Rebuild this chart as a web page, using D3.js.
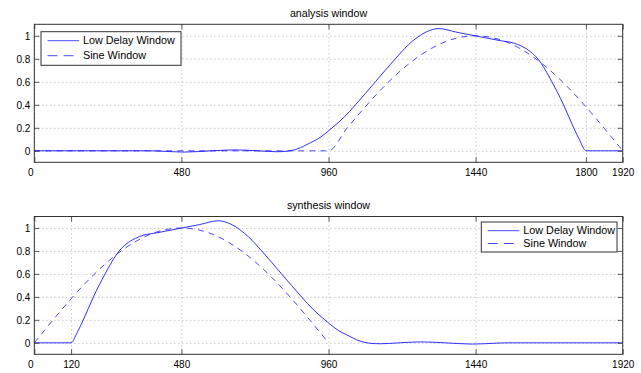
<!DOCTYPE html>
<html><head><meta charset="utf-8">
<script src="https://cdn.jsdelivr.net/npm/d3@7"></script>
<style>
body{margin:0;background:#fff;}
svg{display:block;font-family:"Liberation Sans",Arial,Helvetica,sans-serif;}
</style></head>
<body><svg id="c" width="641" height="373"></svg>
<script>
// ---- data ----
const titles = ["analysis window", "synthesis window"];
const seriesNames = ["Low Delay Window", "Sine Window"];
const xTicksTop = [0, 480, 960, 1440, 1800, 1920];
const xTicksBottom = [0, 120, 480, 960, 1440, 1920];
const yTicks = [0, 0.2, 0.4, 0.6, 0.8, 1];
const yTickLabels = ["0", "0.2", "0.4", "0.6", "0.8", "1"];

// analysis low delay window [n, value]
const analysisLD = [
  [0,0],[375,0],[420,-0.004],[490,-0.011],[580,0.0],[660,0.008],[740,-0.002],[790,-0.008],
  [825,-0.004],[857,0.015],[901,0.07],[923,0.1],[972,0.2],[1010,0.29],[1048,0.4],[1113,0.6],
  [1178,0.8],[1220,0.92],[1249,0.985],[1280,1.035],[1300,1.055],[1320,1.063],[1380,1.03],
  [1440,0.999],[1520,0.958],[1564,0.937],[1590,0.91],[1620,0.86],[1643,0.8],[1689,0.6],
  [1727,0.4],[1760,0.2],[1780,0.09],[1800,0],[1920,0]
];
// analysis sine window
const analysisSine = [
  [0,0],[960,0],[1020,0.195],[1080,0.383],[1140,0.556],[1200,0.707],[1260,0.831],[1320,0.924],
  [1380,0.981],[1440,1.0],[1500,0.981],[1560,0.924],[1620,0.831],[1680,0.707],[1740,0.556],
  [1800,0.383],[1860,0.195],[1920,0]
];
// synthesis low delay window
const synthesisLD = [
  [0,0],[120,0],[140,0.09],[160,0.2],[193,0.4],[231,0.6],[277,0.8],[300,0.86],[330,0.91],
  [356,0.937],[400,0.958],[480,0.999],[540,1.03],[600,1.063],[620,1.055],[640,1.035],[671,0.985],
  [700,0.92],[742,0.8],[807,0.6],[872,0.4],[910,0.29],[948,0.2],[997,0.1],[1019,0.07],
  [1063,0.015],[1095,-0.004],[1130,-0.008],[1180,-0.002],[1260,0.008],[1340,0.0],[1430,-0.011],
  [1500,-0.004],[1545,0],[1920,0]
];
// synthesis sine window
const synthesisSine = [
  [0,0],[60,0.195],[120,0.383],[180,0.556],[240,0.707],[300,0.831],[360,0.924],[420,0.981],
  [480,1.0],[540,0.981],[600,0.924],[660,0.831],[720,0.707],[780,0.556],[840,0.383],[900,0.195],
  [960,0]
];

const svg = d3.select("#c");
const L = 34.3, R = 622.7;
const panels = [
  {top:24.3, bottom:162.3, title:titles[0], ticks:xTicksTop, ld:analysisLD, sine:analysisSine,
   legend:{x:41, y:31.7, w:140, h:33.6, rows:[40.7,55.7]}, titleY:16.5},
  {top:216.5, bottom:354.3, title:titles[1], ticks:xTicksBottom, ld:synthesisLD, sine:synthesisSine,
   legend:{x:481.3, y:222, w:135.7, h:30, rows:[230.7,243.5]}, titleY:209}
];
const blue = "#1a1aff";

panels.forEach(p => {
  const x = d3.scaleLinear().domain([0,1920]).range([L,R]);
  const y = d3.scaleLinear().domain([-0.1,1.1]).range([p.bottom,p.top]);
  const g = svg.append("g");
  const h = p.bottom - p.top, w = R - L;

  // grid
  const gx = g.append("g").attr("transform",`translate(0,${p.bottom})`)
    .call(d3.axisBottom(x).tickValues(p.ticks).tickSize(-h).tickFormat(""));
  const gy = g.append("g").attr("transform",`translate(${L},0)`)
    .call(d3.axisLeft(y).tickValues(yTicks).tickSize(-w).tickFormat(""));
  [gx,gy].forEach(a=>{
    a.select(".domain").remove();
    a.selectAll("line").attr("stroke","#999").attr("stroke-width",0.8).attr("stroke-dasharray","1,3");
  });

  // lines
  const line = d3.line().x(d=>x(d[0])).y(d=>y(d[1])).curve(d3.curveMonotoneX);
  g.append("path").datum(p.sine).attr("d",line).attr("fill","none")
    .attr("stroke",blue).attr("stroke-width",0.8).attr("stroke-dasharray","6,5");
  g.append("path").datum(p.ld).attr("d",line).attr("fill","none")
    .attr("stroke",blue).attr("stroke-width",0.9);

  // axes with inward ticks
  const ab = g.append("g").attr("transform",`translate(0,${p.bottom})`)
    .call(d3.axisBottom(x).tickValues(p.ticks).tickSize(-5).tickPadding(7).tickFormat(d3.format("d")));
  const at = g.append("g").attr("transform",`translate(0,${p.top})`)
    .call(d3.axisTop(x).tickValues(p.ticks).tickSize(-5).tickFormat(""));
  const al = g.append("g").attr("transform",`translate(${L},0)`)
    .call(d3.axisLeft(y).tickValues(yTicks).tickSize(-5).tickPadding(4).tickFormat((d,i)=>yTickLabels[i]));
  const ar = g.append("g").attr("transform",`translate(${R},0)`)
    .call(d3.axisRight(y).tickValues(yTicks).tickSize(-5).tickFormat(""));
  [ab,at,al,ar].forEach(a=>{
    a.select(".domain").remove();
    a.selectAll("line").attr("stroke","#333").attr("stroke-width",0.8);
    a.selectAll("text").attr("fill","#000").style("font-size","10px")
      .style("font-family","'Liberation Sans',Arial,sans-serif");
  });
  ab.selectAll("text").filter(d=>d===0).attr("dx",-4);

  // frame
  g.append("rect").attr("x",L).attr("y",p.top).attr("width",w).attr("height",h)
    .attr("fill","none").attr("stroke","#333").attr("stroke-width",1);

  // title
  g.append("text").attr("x",(L+R)/2).attr("y",p.titleY).attr("text-anchor","middle")
    .style("font-size","10.7px").text(p.title);

  // legend
  const lg = p.legend;
  const leg = g.append("g");
  leg.append("rect").attr("x",lg.x).attr("y",lg.y).attr("width",lg.w).attr("height",lg.h)
    .attr("fill","#fff").attr("stroke","#333").attr("stroke-width",1);
  seriesNames.forEach((name,i)=>{
    const ry = lg.rows[i];
    leg.append("line").attr("x1",lg.x+6.5).attr("x2",lg.x+38).attr("y1",ry).attr("y2",ry)
      .attr("stroke",blue).attr("stroke-width",0.8)
      .attr("stroke-dasharray", i===1 ? "10,6" : null);
    leg.append("text").attr("x",lg.x+42).attr("y",ry).attr("dy","0.35em")
      .style("font-size","10.8px").text(name);
  });
});
</script></body></html>
